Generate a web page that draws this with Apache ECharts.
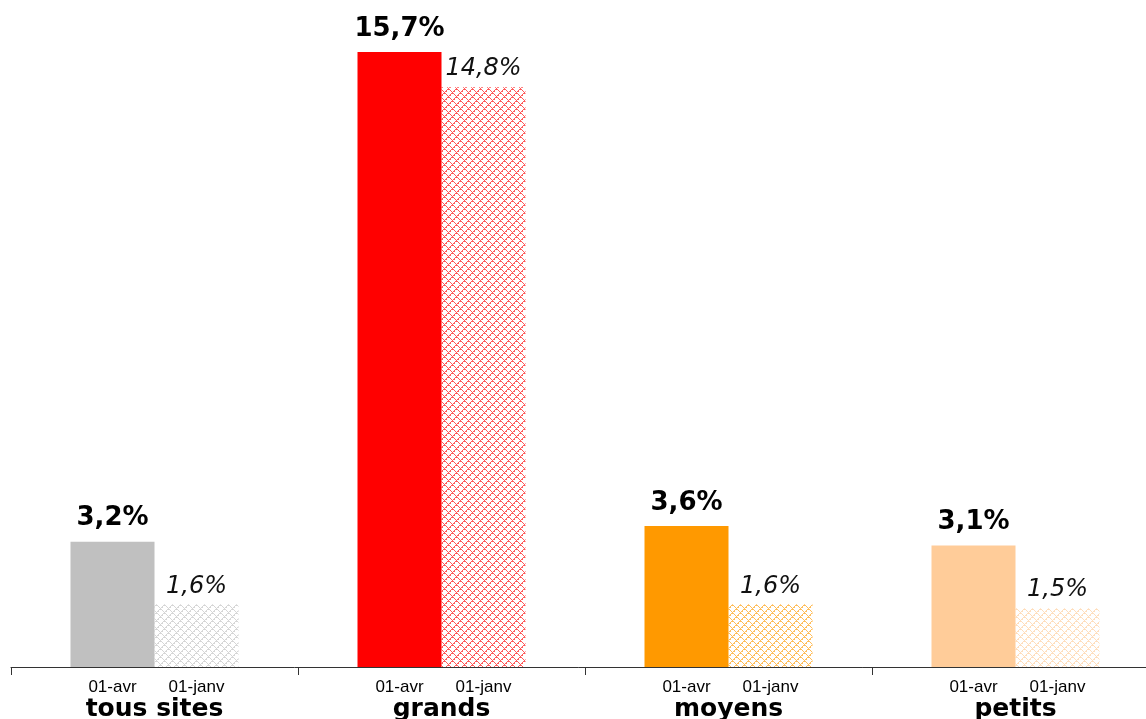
<!DOCTYPE html>
<html>
<head>
<meta charset="utf-8">
<script src="https://cdn.jsdelivr.net/npm/echarts@6/dist/echarts.min.js"></script>
<style>
  html, body { margin: 0; padding: 0; background: #ffffff; overflow: hidden; }
  #chart { width: 1146px; height: 719px; }
</style>
</head>
<body>
<div id="chart"></div>
<script>
// Site groups and their rates at the two dates (percent)
const categories = ['tous sites', 'grands', 'moyens', 'petits'];
const periods = ['01-avr', '01-janv'];
const valuesAvr = [3.2, 15.7, 3.6, 3.1];
const valuesJanv = [1.6, 14.8, 1.6, 1.5];
const groupColors = ['#C0C0C0', '#FF0000', '#FF9900', '#FFCC99'];

// Small tiled lattice used to fill the earlier-date bars
function latticePattern(color) {
  const size = 8;
  const c = document.createElement('canvas');
  c.width = size; c.height = size;
  const ctx = c.getContext('2d');
  ctx.fillStyle = color;
  ctx.globalAlpha = 0.65;
  for (let x = 0; x < size; x++) {
    for (let y = 0; y < size; y++) {
      const d1 = (x + y) % size;
      const d2 = (x - y + size) % size;
      if (d1 === 0 || d2 === 0 || d1 === 1 && (x % 2 === 0)) {
        ctx.fillRect(x, y, 1, 1);
      }
    }
  }
  return { image: c, repeat: 'repeat' };
}

const pct = v => v.toFixed(1).replace('.', ',') + '%';
const BAR_W = 84;

const chart = echarts.init(document.getElementById('chart'), null, { renderer: 'canvas' });

const avrData = valuesAvr.map((v, i) => ({ value: v, itemStyle: { color: groupColors[i] } }));
const janvData = valuesJanv.map((v, i) => ({ value: v, itemStyle: { color: latticePattern(groupColors[i]) } }));
const zeros = categories.map(() => 0);

const periodLabel = text => ({
  show: true,
  position: 'bottom',
  distance: 12,
  formatter: text,
  fontFamily: 'Liberation Sans, Arial, sans-serif',
  fontSize: 17,
  color: '#000'
});

chart.setOption({
  animation: false,
  backgroundColor: '#ffffff',
  // the last category runs past the right edge of the canvas
  grid: {
    left: 11, width: 1148, top: 1, height: 666,
    containLabel: false,
    outerBoundsMode: 'none'
  },
  xAxis: {
    type: 'category',
    data: categories,
    axisLine: { show: true, lineStyle: { color: '#333', width: 1 } },
    axisTick: { show: true, length: 8, lineStyle: { color: '#333' } },
    axisLabel: {
      margin: 30,
      fontFamily: 'DejaVu Sans, Verdana, sans-serif',
      fontWeight: 'bold',
      fontSize: 25,
      color: '#000'
    }
  },
  yAxis: {
    type: 'value',
    min: 0,
    max: 17,
    show: false,
    splitLine: { show: false }
  },
  series: [
    {
      name: periods[0] + '-axe',
      type: 'bar',
      stack: 'avr',
      barWidth: BAR_W,
      barGap: '0%',
      data: zeros,
      itemStyle: { color: 'transparent' },
      label: periodLabel(periods[0])
    },
    {
      name: periods[0],
      type: 'bar',
      stack: 'avr',
      barWidth: BAR_W,
      barGap: '0%',
      data: avrData,
      label: {
        show: true,
        position: 'top',
        distance: 10,
        formatter: p => pct(p.value),
        fontFamily: 'DejaVu Sans, Verdana, sans-serif',
        fontWeight: 'bold',
        fontSize: 26,
        color: '#000'
      }
    },
    {
      name: periods[1] + '-axe',
      type: 'bar',
      stack: 'janv',
      barWidth: BAR_W,
      barGap: '0%',
      data: zeros,
      itemStyle: { color: 'transparent' },
      label: periodLabel(periods[1])
    },
    {
      name: periods[1],
      type: 'bar',
      stack: 'janv',
      barWidth: BAR_W,
      barGap: '0%',
      data: janvData,
      label: {
        show: true,
        position: 'top',
        distance: 6,
        formatter: p => pct(p.value),
        fontFamily: 'DejaVu Sans, Verdana, sans-serif',
        fontStyle: 'italic',
        fontSize: 24,
        color: '#111'
      }
    }
  ]
});
</script>
</body>
</html>
